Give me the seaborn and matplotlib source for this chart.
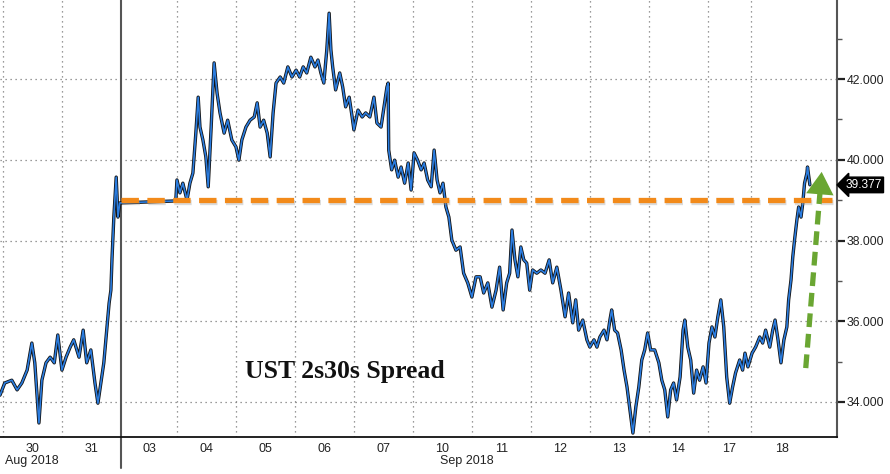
import matplotlib
matplotlib.use("Agg")
import matplotlib.pyplot as plt
import matplotlib.patheffects as pe
import matplotlib.transforms as mtransforms
import numpy as np
import pandas as pd
import seaborn as sns

# ---------------- data ----------------
# t: position in trading sessions (day 0 = Aug 30), v: spread (bp)
t_vals = [0.00, 0.08, 0.20, 0.29, 0.37, 0.46, 0.54, 0.59, 0.66, 0.71, 0.78, 0.85, 0.92, 0.98,
          1.05, 1.12, 1.19, 1.25, 1.34, 1.41, 1.47, 1.54, 1.61, 1.66, 1.71, 1.76, 1.81, 1.85,
          1.88, 1.90, 1.93, 1.97, 2.00, 2.03, 2.98,
          3.00, 3.05, 3.10, 3.17, 3.22, 3.27, 3.32, 3.36, 3.39, 3.44, 3.49, 3.53, 3.58, 3.63,
          3.68, 3.73, 3.80, 3.86, 3.93, 4.00, 4.05, 4.10, 4.17, 4.24, 4.31, 4.36, 4.41, 4.47,
          4.53, 4.58, 4.63, 4.68, 4.75, 4.81, 4.88, 4.95, 5.02, 5.08, 5.14, 5.20, 5.27, 5.34,
          5.39, 5.44, 5.49, 5.54, 5.58, 5.61, 5.64, 5.69, 5.76, 5.81, 5.86, 5.92, 5.97, 6.00,
          6.07, 6.14, 6.20, 6.27, 6.34, 6.39, 6.46, 6.51, 6.56, 6.58, 6.59, 6.64, 6.69, 6.75,
          6.80, 6.86, 6.92, 6.97, 7.02, 7.08, 7.14, 7.19, 7.25, 7.31, 7.36, 7.41, 7.46, 7.51,
          7.56, 7.61, 7.66, 7.73, 7.80, 7.86, 7.93, 8.00, 8.07, 8.14, 8.20, 8.27, 8.34, 8.41,
          8.47, 8.53, 8.59, 8.64, 8.68, 8.73, 8.78, 8.83, 8.88, 8.93, 8.98, 9.03, 9.10, 9.17,
          9.24, 9.31, 9.37, 9.44, 9.51, 9.58, 9.64, 9.71, 9.76, 9.81, 9.88, 9.95, 10.00, 10.07,
          10.12, 10.17, 10.24, 10.29, 10.34, 10.37, 10.42, 10.47, 10.53, 10.58, 10.63, 10.68,
          10.73, 10.78, 10.83, 10.88, 10.93, 10.98, 11.03, 11.10, 11.17, 11.22, 11.27, 11.32,
          11.37, 11.42, 11.47, 11.53, 11.58, 11.61, 11.66, 11.71, 11.76, 11.81, 11.86, 11.92,
          11.97, 12.02, 12.07, 12.12, 12.17, 12.22, 12.27, 12.32, 12.37, 12.42, 12.47, 12.54,
          12.59, 12.63, 12.68, 12.75, 12.81, 12.88, 12.93, 12.98, 13.05, 13.10, 13.14, 13.19,
          13.24, 13.29, 13.34, 13.37, 13.41, 13.44, 13.47, 13.51, 13.54, 13.58, 13.61, 13.64,
          13.68, 13.69, 13.73]
spread = [34.17, 34.47, 34.54, 34.30, 34.47, 34.79, 35.46, 34.97, 33.48, 34.54, 34.97, 35.11, 34.97, 35.66,
          34.79, 35.11, 35.36, 35.54, 35.11, 35.78, 34.97, 35.29, 34.47, 33.97, 34.47, 34.97, 35.78, 36.45,
          36.77, 37.59, 38.58, 39.57, 38.58, 38.93, 38.98,
          39.50, 39.18, 39.42, 39.00, 39.42, 39.67, 40.66, 41.55, 40.81, 40.49, 40.07, 39.33, 40.81, 42.40,
          41.65, 41.16, 40.66, 40.98, 40.49, 40.32, 39.99, 40.49, 40.81, 40.98, 41.06, 41.41, 40.81, 40.98,
          40.66, 40.07, 41.16, 41.90, 42.05, 41.90, 42.30, 42.05, 42.22, 42.05, 42.30, 42.15, 42.54, 42.30,
          42.47, 42.15, 41.90, 42.72, 43.63, 42.72, 42.30, 41.73, 42.15, 41.80, 41.31, 41.55, 41.06, 40.74,
          41.23, 41.06, 41.16, 41.06, 41.55, 40.91, 40.81, 41.31, 41.80, 41.90, 40.24, 39.75, 39.99, 39.57,
          39.82, 39.42, 39.92, 39.25, 40.17, 39.99, 39.75, 39.92, 39.50, 39.33, 40.24, 39.50, 39.18, 39.42,
          38.83, 38.58, 38.01, 37.76, 37.84, 37.19, 36.95, 36.60, 37.10, 37.10, 36.70, 36.95, 36.35, 36.77,
          37.34, 36.28, 36.95, 37.19, 38.26, 37.52, 37.10, 37.84, 37.52, 37.44, 36.77, 37.27, 37.19, 37.27,
          37.19, 37.52, 36.95, 37.34, 36.77, 36.11, 36.70, 35.96, 36.53, 35.78, 36.03, 35.54, 35.36, 35.54,
          35.36, 35.61, 35.78, 35.54, 36.03, 36.28, 35.78, 35.71, 35.29, 34.79, 34.37, 33.80,
          33.23, 33.88, 34.37, 35.04, 35.29, 35.71, 35.29, 35.29, 34.97, 34.54, 34.30, 33.63,
          34.30, 34.47, 34.05, 34.62, 35.78, 36.03, 35.36, 35.04, 34.22, 34.79, 34.54, 34.87,
          34.47, 35.46, 35.86, 35.61, 36.11, 36.53, 35.86, 34.62, 33.97, 34.37, 34.72, 35.04,
          34.79, 35.21, 34.87, 35.21, 35.36, 35.61, 35.46, 35.78, 35.36, 35.78, 36.03, 35.54,
          34.97, 35.54, 35.86, 36.53, 37.02, 37.59, 38.01, 38.51, 38.83, 38.58, 38.93, 39.42,
          39.67, 39.82, 39.38]

day_labels = ["30", "31", "03", "04", "05", "06", "07", "10", "11", "12", "13", "14", "17", "18"]
day_edges = [0.05, 1.05, 2.05, 3.0, 4.0, 5.0, 6.0, 7.0, 8.0, 9.0, 10.0, 11.0, 12.0, 12.73, 13.77]
month_labels = ["Aug 2018", "Sep 2018"]
month_pos = [0.54, 7.92]
month_break = 2.05
y_ticks = [34, 36, 38, 40, 42]
y_minor = [35, 37, 39, 41, 43]
level = 39.0
last_value = 39.377
title = "UST 2s30s Spread"
arrow_tail = (13.66, 34.84)
arrow_head = (13.93, 39.70)

# ---------------- figure ----------------
sns.set_theme(style="white")
plt.rcParams['font.family'] = ['Liberation Sans', 'DejaVu Sans']

fig = plt.figure(figsize=(8.9, 4.74), dpi=100)
W, H = 890, 474
ax = fig.add_axes([0, 37 / H, 837 / W, 437 / H])
ax.set_facecolor("white")

df = pd.DataFrame({"t": t_vals, "spread": spread})

# grid
grid_kw = dict(color="#7a7a7a", lw=0.9, linestyle=(0, (1, 3)), zorder=1)
for e in day_edges[:-1]:
    if e == month_break:
        continue
    ax.axvline(e, **grid_kw)
for yv in y_ticks:
    ax.axhline(yv, **grid_kw)
ax.axvline(month_break, ymin=-0.072, ymax=1, color="#555555", lw=1.5, clip_on=False, zorder=2)

# series: black under-stroke + blue
sns.lineplot(data=df, x="t", y="spread", ax=ax, color="#111111", lw=2.4,
             sort=False, estimator=None, zorder=3)
sns.lineplot(data=df, x="t", y="spread", ax=ax, color="#2b7de0", lw=1.2,
             sort=False, estimator=None, zorder=4)

# orange level line
ax.hlines(level, month_break, 14.10, color="#f28a1a", lw=3.8,
          linestyles=(0, (3.3, 1.6)), zorder=5, capstyle="butt",
          path_effects=[pe.SimpleLineShadow(offset=(0.8, -1.5), shadow_color="#999999", alpha=0.35),
                        pe.Normal()])

# green arrow
frac = 0.93
mid = (arrow_tail[0] + (arrow_head[0] - arrow_tail[0]) * frac,
       arrow_tail[1] + (arrow_head[1] - arrow_tail[1]) * frac)
ax.plot([arrow_tail[0], mid[0]], [arrow_tail[1], mid[1]], color="#6aa632", lw=3.8,
        linestyle=(0, (2.6, 1.3)), solid_capstyle="butt", dash_capstyle="butt", zorder=6)
ax.annotate("", xy=arrow_head, xytext=mid,
            arrowprops=dict(arrowstyle="-|>,head_length=0.9,head_width=0.55", lw=0,
                            color="#6aa632", mutation_scale=18, shrinkA=0, shrinkB=0),
            zorder=6)

# title
ax.text(4.15, 34.59, title, family=["Liberation Serif", "DejaVu Serif"], fontweight="bold",
        fontsize=18.5, color="#111111", ha="left", va="baseline", zorder=7)

# axes limits
ax.set_xlim(0, 14.19)
ax.set_ylim(33.133, 43.957)

# spines
for s in ["left", "top"]:
    ax.spines[s].set_visible(False)
ax.spines["bottom"].set_color("#111111")
ax.spines["bottom"].set_linewidth(1.3)
ax.spines["right"].set_color("#555555")
ax.spines["right"].set_linewidth(1.5)

# y ticks on right
ax.yaxis.tick_right()
ax.set_yticks(y_ticks)
ax.set_yticklabels([f"{v:.3f}" for v in y_ticks])
ax.set_yticks(y_minor, minor=True)
ax.tick_params(axis="y", which="major", direction="out", length=6, width=1.6,
               colors="#222222", labelsize=8.8, pad=1, right=True, left=False)
ax.tick_params(axis="y", which="minor", direction="out", length=3.5, width=1.0,
               color="#555555", right=True, left=False)
ax.set_ylabel("")

# x ticks: day labels centred in day bands
centers = [(day_edges[i] + day_edges[i + 1]) / 2 for i in range(len(day_labels))]
ax.set_xticks(centers)
ax.set_xticklabels(day_labels)
ax.tick_params(axis="x", length=0, labelsize=9, colors="#222222", pad=4)
ax.set_xlabel("")

trans = mtransforms.blended_transform_factory(ax.transData, ax.transAxes)
for lab, pos in zip(month_labels, month_pos):
    ax.text(pos, -0.041, lab, transform=trans, ha="center", va="top", fontsize=9, color="#222222")

# last value box
ax.annotate(f"{last_value:.3f}", xy=(1.0, last_value), xycoords=("axes fraction", "data"),
            xytext=(6, 0), textcoords="offset points", ha="left", va="center",
            fontsize=8.6, color="white",
            bbox=dict(boxstyle="larrow,pad=0.15", fc="black", ec="black"),
            annotation_clip=False)

fig.savefig("out.png", dpi=100, facecolor="white")
